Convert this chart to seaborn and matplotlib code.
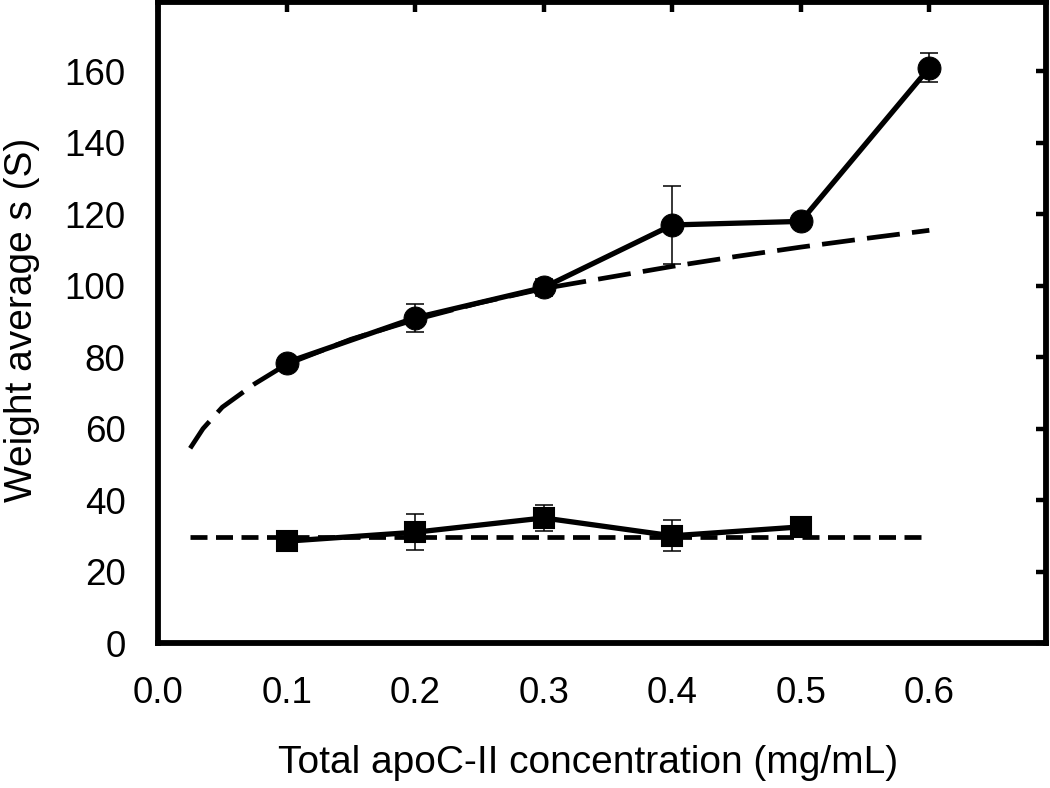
import numpy as np
import pandas as pd
import matplotlib
matplotlib.use("Agg")
import matplotlib.pyplot as plt
import seaborn as sns

# Data
conc = [0.1, 0.2, 0.3, 0.4, 0.5, 0.6]
circle_s = [78.5, 91.0, 99.5, 117.0, 118.0, 161.0]
circle_err = [1.5, 4.0, 2.5, 11.0, 1.5, 4.0]

sq_conc = [0.1, 0.2, 0.3, 0.4, 0.5]
square_s = [28.5, 31.0, 35.0, 30.0, 32.5]
square_err = [1.5, 5.0, 3.7, 4.3, 1.5]

fit_conc = [0.025, 0.035, 0.05, 0.075, 0.1, 0.15, 0.2, 0.25, 0.3, 0.35, 0.4, 0.45, 0.5, 0.55, 0.6]
fit_s = [54.5, 60.0, 66.0, 72.5, 78.0, 85.0, 90.5, 95.2, 99.2, 102.3, 105.4, 108.2, 110.8, 113.2, 115.5]

flat_conc = [0.025, 0.6]
flat_s = [29.7, 29.7]

x_ticks = [0.0, 0.1, 0.2, 0.3, 0.4, 0.5, 0.6]
x_ticklabels = ["0.0", "0.1", "0.2", "0.3", "0.4", "0.5", "0.6"]
y_ticks = [0, 20, 40, 60, 80, 100, 120, 140, 160]

sns.set_theme(style="white")
plt.rcParams['font.family'] = ['Liberation Sans', 'DejaVu Sans']

fig = plt.figure(figsize=(10.5, 7.88), dpi=100)
ax = fig.add_axes([0.1505, 0.184, 0.846, 0.813])

df_fit = pd.DataFrame({"c": fit_conc, "s": fit_s})
df_flat = pd.DataFrame({"c": flat_conc, "s": flat_s})
df_circ = pd.DataFrame({"c": conc, "s": circle_s})
df_sq = pd.DataFrame({"c": sq_conc, "s": square_s})

sns.lineplot(data=df_fit, x="c", y="s", ax=ax, color="black", lw=3.4,
             sort=False, estimator=None)
ax.lines[-1].set_dashes([7, 2.6])
sns.lineplot(data=df_flat, x="c", y="s", ax=ax, color="black", lw=3.4,
             sort=False, estimator=None)
ax.lines[-1].set_dashes([3.6, 1.8])

ax.errorbar(conc, circle_s, yerr=circle_err, fmt="none", ecolor="black",
            elinewidth=1.1, capsize=6.5, capthick=1.1, zorder=3)
ax.errorbar(sq_conc, square_s, yerr=square_err, fmt="none", ecolor="black",
            elinewidth=1.1, capsize=6.5, capthick=1.1, zorder=3)

sns.lineplot(data=df_circ, x="c", y="s", ax=ax, color="black", lw=3.8,
             marker="o", markersize=16.5, markeredgecolor="black", estimator=None, zorder=4)
sns.lineplot(data=df_sq, x="c", y="s", ax=ax, color="black", lw=3.8,
             marker="s", markersize=14.5, markeredgecolor="black", markeredgewidth=1.5,
             estimator=None, zorder=4)

ax.set_xlim(0, 0.691)
ax.set_ylim(0, 179.3)
ax.set_xticks(x_ticks)
ax.set_xticklabels(x_ticklabels)
ax.set_yticks(y_ticks)

for sp in ax.spines.values():
    sp.set_visible(True)
    sp.set_color("black")
    sp.set_linewidth(4.2)

ax.tick_params(axis="both", which="major", colors="black", labelsize=26.5,
               width=3.2, direction="out")
ax.tick_params(axis="x", length=9.5, pad=14)
ax.tick_params(axis="y", length=8.5, pad=15)

# inward ticks on top and right
secx = ax.secondary_xaxis("top")
secx.set_xticks(x_ticks)
secx.set_xticklabels([])
secx.tick_params(direction="in", length=7.5, width=3.2, colors="black")
secx.spines["top"].set_visible(False)
secy = ax.secondary_yaxis("right")
secy.set_yticks(y_ticks)
secy.set_yticklabels([])
secy.tick_params(direction="in", length=7.5, width=3.2, colors="black")
secy.spines["right"].set_visible(False)

ax.set_xlabel("Total apoC-II concentration (mg/mL)", fontsize=28, color="black")
ax.set_ylabel("Weight average s (S)", fontsize=28, color="black")
ax.xaxis.set_label_coords(0.484, -0.159)
ax.yaxis.set_label_coords(-0.133, 0.505)
ax.grid(False)

fig.savefig("out.png", dpi=100)
